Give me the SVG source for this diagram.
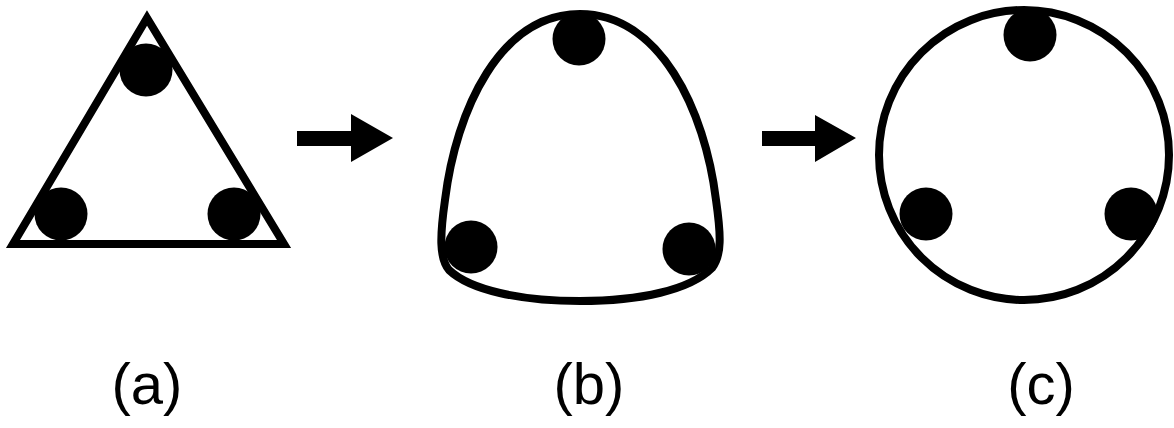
<svg xmlns="http://www.w3.org/2000/svg" width="1174" height="428" viewBox="0 0 1174 428">
  <style>
    .outline { fill: none; stroke: #000; stroke-width: 8; }
    .dot { fill: #000; }
    .arrow { fill: #000; }
    .label { font-family: "Liberation Sans", Arial, Helvetica, sans-serif; font-size: 58px; fill: #000; text-anchor: middle; }
  </style>
  <rect width="1174" height="428" fill="#fff"/>
  <g id="node-a">
    <polygon class="outline" points="147,18 13,244 284,244" stroke-linejoin="miter"/>
    <circle class="dot" cx="146" cy="70" r="26.5"/>
    <circle class="dot" cx="61" cy="214" r="26.5"/>
    <circle class="dot" cx="234" cy="214" r="26.5"/>
    <text class="label" x="147" y="404">(a)</text>
  </g>
  <g id="node-b">
    <path class="outline" d="M 580 14 C 660 14, 705 110, 716 200 C 721 235, 722 255, 712 268 C 690 290, 640 301, 580 301 C 520 301, 470 290, 449 270 C 439 258, 440 235, 445 200 C 456 110, 500 14, 580 14 Z"/>
    <circle class="dot" cx="579" cy="39" r="26.5"/>
    <circle class="dot" cx="471" cy="247" r="26.5"/>
    <circle class="dot" cx="689" cy="249" r="26.5"/>
    <text class="label" x="589" y="404">(b)</text>
  </g>
  <g id="node-c">
    <circle class="outline" cx="1024" cy="155" r="145"/>
    <circle class="dot" cx="1030" cy="35" r="26.5"/>
    <circle class="dot" cx="926" cy="214" r="26.5"/>
    <circle class="dot" cx="1131" cy="214" r="26.5"/>
    <text class="label" x="1041" y="404">(c)</text>
  </g>
  <g id="connectors">
    <path class="arrow" d="M 297 131 L 351 131 L 351 114 L 393 138 L 351 162 L 351 146 L 297 146 Z"/>
    <path class="arrow" d="M 762 131 L 815 131 L 815 115 L 856 138 L 815 162 L 815 146 L 762 146 Z"/>
  </g>
</svg>
